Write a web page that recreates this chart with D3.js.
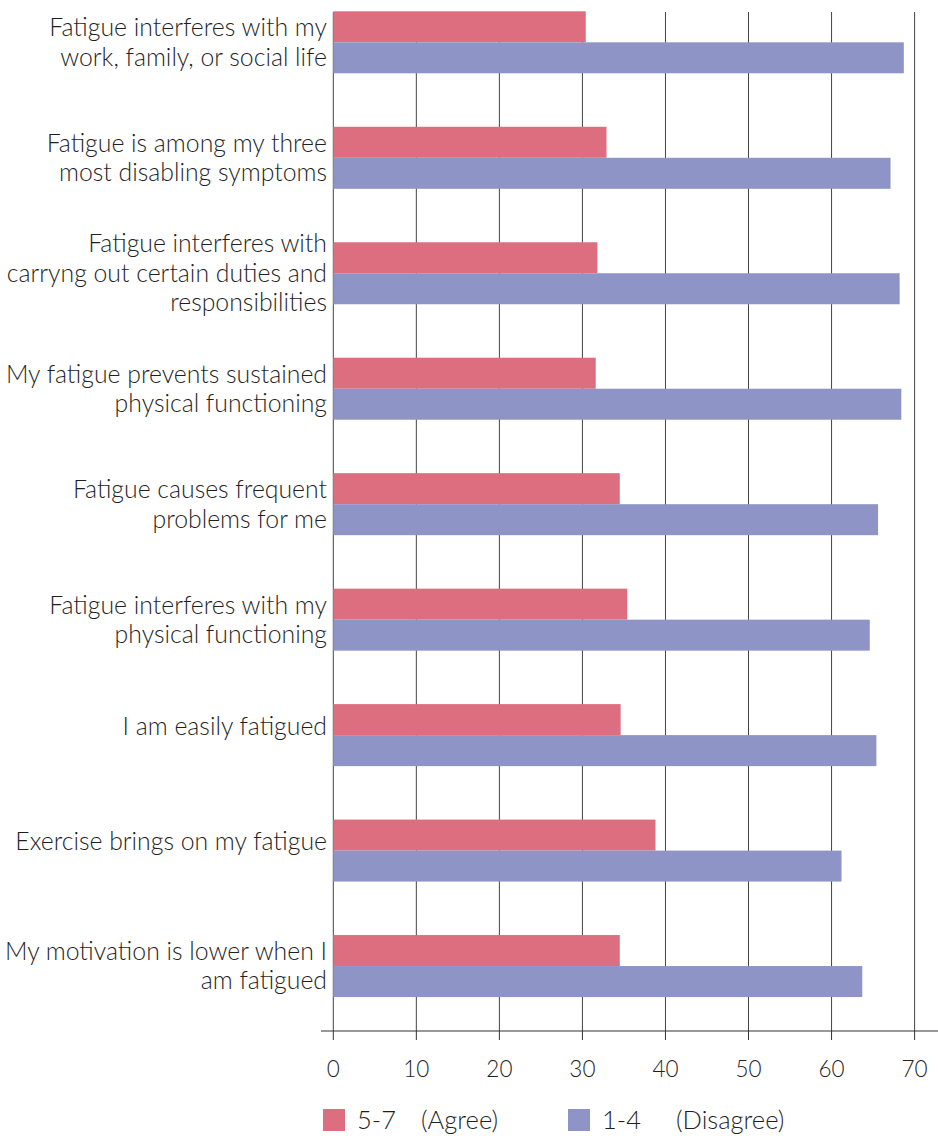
<!DOCTYPE html>
<html>
<head>
<meta charset="utf-8">
<script src="https://cdn.jsdelivr.net/npm/d3@7"></script>
<style>
  html, body { margin: 0; padding: 0; background: #fff; }
  svg { display: block; }
  text { font-family: Lato, "Open Sans", sans-serif; font-weight: 300; fill: #1f1f1f; }
</style>
</head>
<body>
<svg id="chart" width="938" height="1136"></svg>
<script>
// Survey statements (one array entry per wrapped line)
const categories = [
  ["Fatigue interferes with my", "work, family, or social life"],
  ["Fatigue is among my three", "most disabling symptoms"],
  ["Fatigue interferes with", "carryng out certain duties and", "responsibilities"],
  ["My fatigue prevents sustained", "physical functioning"],
  ["Fatigue causes frequent", "problems for me"],
  ["Fatigue interferes with my", "physical functioning"],
  ["I am easily fatigued"],
  ["Exercise brings on my fatigue"],
  ["My motivation is lower when I", "am fatigued"]
];

// Percent of respondents per response group
const agree    = [30.4, 32.9, 31.8, 31.6, 34.5, 35.4, 34.6, 38.8, 34.5];
const disagree = [68.7, 67.1, 68.2, 68.4, 65.6, 64.6, 65.4, 61.2, 63.7];

const seriesKeys   = ["agree", "disagree"];
const seriesNames  = ["5-7", "1-4"];
const seriesNotes  = ["(Agree)", "(Disagree)"];
const seriesColors = ["#dd6e80", "#8f94c7"];
const xTicks = [0, 10, 20, 30, 40, 50, 60, 70];

const svg = d3.select("#chart");

const plotLeft = 333.3, plotRight = 914.6;
const plotTop = 12, axisY = 1031;

const x = d3.scaleLinear().domain([0, 70]).range([plotLeft, plotRight]);

const idx = d3.range(categories.length);
const y = d3.scaleBand()
  .domain(idx)
  .range([0, axisY])
  .paddingInner(0.463)
  .paddingOuter(0.196)
  .align(0.25);

const ySub = d3.scaleBand().domain(seriesKeys).range([0, y.bandwidth()]);

const rows = idx.map(i => ({ i, agree: agree[i], disagree: disagree[i] }));

// vertical gridlines (including the value axis at 0)
svg.append("g")
  .selectAll("line")
  .data(xTicks)
  .join("line")
  .attr("x1", d => x(d)).attr("x2", d => x(d))
  .attr("y1", plotTop).attr("y2", axisY)
  .attr("stroke", "#444")
  .attr("stroke-width", 1);

// bars
const groups = svg.append("g")
  .selectAll("g")
  .data(rows)
  .join("g")
  .attr("transform", d => `translate(0,${y(d.i)})`);

groups.selectAll("rect")
  .data(d => seriesKeys.map((k, j) => ({ key: k, value: d[k], color: seriesColors[j] })))
  .join("rect")
  .attr("x", x(0))
  .attr("y", d => ySub(d.key))
  .attr("width", d => x(d.value) - x(0))
  .attr("height", ySub.bandwidth())
  .attr("fill", d => d.color);

// category labels
const lineH = 29.5;
svg.append("g")
  .selectAll("text")
  .data(idx)
  .join("text")
  .attr("text-anchor", "end")
  .attr("font-size", 24.8)
  .each(function (i) {
    const lines = categories[i];
    const cy = y(i) + y.bandwidth() / 2 - (lines.length === 1 ? 9 : 0);
    const y0 = cy - (lines.length - 1) * lineH / 2;
    d3.select(this).selectAll("tspan")
      .data(lines)
      .join("tspan")
      .attr("x", 327)
      .attr("y", (t, k) => y0 + k * lineH)
      .attr("dy", "0.35em")
      .text(t => t);
  });

// bottom axis
const axis = svg.append("g").attr("transform", `translate(0,${axisY})`);
axis.append("line")
  .attr("x1", 321).attr("x2", 938)
  .attr("stroke", "#333").attr("stroke-width", 1);
axis.selectAll(".tick")
  .data(xTicks)
  .join("line")
  .attr("x1", d => x(d)).attr("x2", d => x(d))
  .attr("y1", 0).attr("y2", 9)
  .attr("stroke", "#333").attr("stroke-width", 1);
axis.selectAll(".lbl")
  .data(xTicks)
  .join("text")
  .attr("x", d => x(d))
  .attr("y", 38)
  .attr("dy", "0.35em")
  .attr("text-anchor", "middle")
  .attr("font-size", 22.5)
  .text(d => d);

// legend
const legendX = [323, 568];
const legend = svg.append("g")
  .selectAll("g")
  .data(seriesKeys)
  .join("g")
  .attr("transform", (d, j) => `translate(${legendX[j]},1109)`);
legend.append("rect")
  .attr("width", 22).attr("height", 22)
  .attr("fill", (d, j) => seriesColors[j]);
legend.append("text")
  .attr("x", 34).attr("y", 11).attr("dy", "0.35em")
  .attr("font-size", 25.5)
  .text((d, j) => seriesNames[j]);
legend.append("text")
  .attr("x", (d, j) => j === 0 ? 98 : 108).attr("y", 11).attr("dy", "0.35em")
  .attr("font-size", 25.5)
  .text((d, j) => seriesNotes[j]);
</script>
</body>
</html>
